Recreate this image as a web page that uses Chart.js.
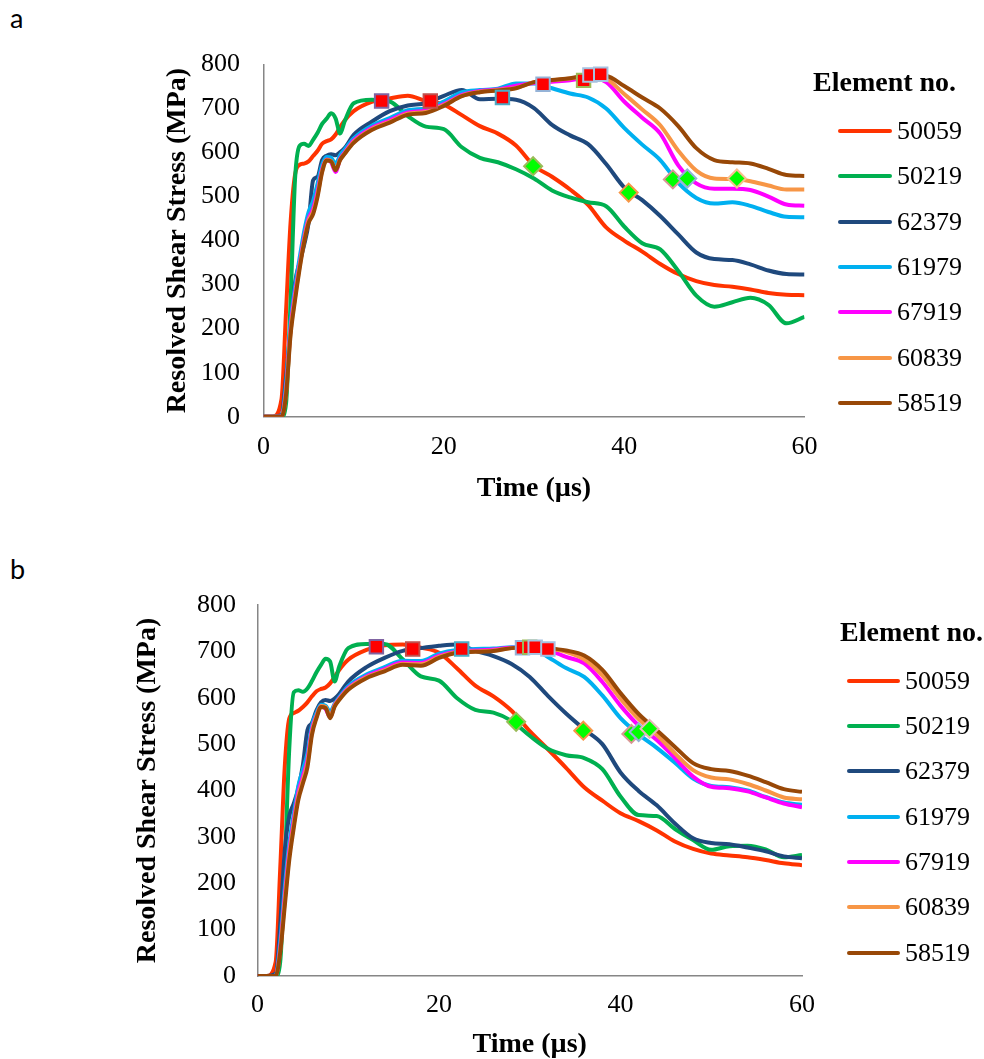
<!DOCTYPE html>
<html>
<head>
<meta charset="utf-8">
<script src="https://cdn.jsdelivr.net/npm/chart.js@4.4.0/dist/chart.umd.min.js"></script>
<style>
  body { margin: 0; background: #fff; }
  #page { position: relative; width: 984px; height: 1059px; overflow: hidden; font-family: "Liberation Serif", "Times New Roman", serif; color: #000; }
  canvas { position: absolute; left: 0; }
  .tag { position: absolute; left: 10px; font-family: Lato, "Open Sans", sans-serif; font-size: 27px; line-height: 1; }
  .legend-title { position: absolute; font-weight: bold; font-size: 28px; line-height: 1; white-space: nowrap; }
  .legend-item { position: absolute; display: flex; align-items: center; font-size: 26px; line-height: 1; height: 26px; }
  .legend-swatch { height: 4px; border-radius: 2px; margin-right: 5px; }
</style>
</head>
<body>
<div id="page">
  <div class="tag" style="top:4px">a</div>
  <div class="tag" style="top:555px">b</div>
  <canvas id="chartA" width="984" height="520" style="top:0"></canvas>
  <canvas id="chartB" width="984" height="529" style="top:530px"></canvas>
  <div id="legendA"></div>
  <div id="legendB"></div>
</div>
<script>
"use strict";

// time axis (µs), shared by every series
const timeUs = [0, 1, 2, 2.5, 3, 3.5, 4, 4.5, 5, 5.5, 6, 6.5, 7, 7.5, 8, 8.5, 9,
  10, 12, 14, 16, 18, 20, 22, 24, 26, 28, 30, 32, 34, 36, 38, 40, 42, 44, 46, 48, 50, 52, 54, 56, 58, 60];

const elementNos = ["50059", "50219", "62379", "61979", "67919", "60839", "58519"];
const lineColors = ["#FF3300", "#00B050", "#1F497D", "#00B0F0", "#FF00FF", "#F79646", "#984807"];

// panel a - resolved shear stress (MPa)
const a50059 = [0, 0, 40, 240, 440, 550, 572, 575, 580, 592, 604, 620, 626, 630, 641, 658, 673,
  694, 715, 723, 729, 717, 709, 685, 660, 643, 616, 570, 545, 516, 481, 430, 400, 375, 347, 324, 308, 299, 295, 289, 281, 277, 276];
const a50219 = [0, 0, 0, 30, 260, 540, 615, 620, 615, 629, 645, 665, 677, 689, 677, 643, 671,
  712, 720, 716, 683, 659, 653, 612, 588, 578, 562, 541, 514, 498, 487, 478, 432, 394, 380, 331, 275, 250, 260, 270, 254, 212, 227];
const a62379 = [0, 0, 5, 90, 200, 305, 350, 390, 440, 537, 545, 583, 593, 596, 594, 601, 610,
  640, 670, 694, 707, 712, 729, 742, 721, 722, 720, 701, 663, 639, 619, 574, 521, 492, 456, 414, 373, 358, 356, 346, 332, 324, 323];
const a61979 = [0, 0, 0, 75, 215, 295, 360, 420, 465, 490, 530, 572, 590, 588, 575, 594, 607,
  632, 661, 678, 696, 700, 716, 737, 742, 745, 757, 757, 746, 734, 725, 700, 656, 618, 583, 531, 497, 484, 487, 479, 465, 454, 453];
const a67919 = [0, 0, 0, 60, 200, 280, 345, 405, 450, 472, 512, 562, 584, 578, 556, 586, 600,
  627, 656, 673, 691, 695, 710, 731, 740, 743, 752, 758, 761, 764, 770, 760, 716, 679, 643, 571, 530, 518, 518, 515, 500, 482, 479];
const a60839 = [0, 0, 0, 55, 192, 272, 340, 400, 445, 465, 505, 558, 583, 581, 561, 584, 598,
  624, 653, 670, 688, 692, 708, 729, 738, 742, 747, 760, 764, 768, 774, 768, 733, 698, 662, 604, 559, 541, 540, 535, 525, 516, 516];
const a58519 = [0, 0, 0, 50, 185, 265, 335, 395, 440, 460, 500, 555, 582, 580, 560, 583, 597,
  622, 651, 668, 686, 690, 706, 728, 737, 741, 746, 760, 765, 769, 775, 774, 751, 725, 700, 660, 610, 583, 578, 575, 563, 549, 547];

// panel b
const b50059 = [0, 0, 30, 230, 450, 555, 567, 572, 580, 590, 603, 614, 619, 622, 631, 645, 660,
  682, 703, 713, 715, 708, 697, 663, 626, 603, 572, 528, 489, 449, 407, 378, 351, 334, 314, 290, 274, 264, 260, 256, 250, 243, 239];
const b50219 = [0, 0, 0, 30, 230, 490, 612, 616, 613, 620, 636, 655, 671, 684, 678, 635, 667,
  707, 716, 716, 683, 646, 637, 599, 574, 568, 550, 518, 490, 476, 470, 446, 387, 347, 345, 317, 293, 272, 280, 281, 273, 256, 261];
const b62379 = [0, 0, 5, 110, 270, 345, 372, 405, 455, 530, 546, 573, 590, 595, 593, 598, 608,
  635, 666, 686, 701, 707, 712, 715, 701, 690, 673, 645, 604, 566, 532, 500, 439, 399, 368, 329, 297, 287, 284, 277, 269, 258, 254];
const b61979 = [0, 0, 0, 75, 190, 285, 350, 410, 445, 480, 540, 567, 585, 583, 570, 587, 601,
  625, 650, 666, 680, 679, 695, 703, 705, 706, 709, 708, 688, 664, 645, 605, 556, 521, 492, 460, 426, 410, 407, 400, 386, 374, 369];
const b67919 = [0, 0, 0, 60, 172, 270, 336, 396, 430, 466, 532, 561, 582, 576, 558, 584, 598,
  621, 646, 662, 676, 675, 691, 700, 702, 704, 708, 708, 703, 688, 674, 634, 583, 540, 509, 470, 430, 408, 405, 398, 385, 372, 364];
const b60839 = [0, 0, 0, 55, 162, 260, 328, 388, 422, 458, 526, 559, 582, 580, 559, 583, 597,
  619, 644, 659, 673, 672, 688, 698, 700, 702, 707, 708, 706, 699, 683, 648, 598, 554, 520, 480, 444, 428, 424, 414, 400, 385, 381];
const b58519 = [0, 0, 0, 50, 150, 250, 320, 380, 415, 450, 520, 556, 580, 578, 556, 581, 595,
  617, 642, 657, 671, 669, 686, 697, 699, 701, 707, 709, 707, 702, 691, 660, 610, 565, 530, 494, 459, 446, 442, 432, 418, 403, 397];

// markers: red squares and green diamonds
const squareA_t = [13.1, 18.5, 26.5, 31.0, 35.5, 36.2, 37.4];
const squareA_v = [717, 717, 725, 755, 764, 776, 778];
const diamondA_t = [29.9, 40.5, 45.4, 47.0, 52.5];
const diamondA_v = [569, 509, 539, 541, 541];
const squareB_t = [13.1, 17.1, 22.5, 29.2, 30.0, 30.6, 32.0];
const squareB_v = [710, 705, 705, 708, 709, 709, 705];
const diamondB_t = [28.5, 35.9, 41.2, 42.0, 43.2];
const diamondB_v = [548, 529, 522, 526, 533];

// marker edge colours (style only)
const squareEdgeA = ["#8064A2", "#C0504D", "#4BACC6", "#95B3D7", "#9BBB59", "#A6C1E0", "#A6C1E0"];
const diamondEdgeA = ["#9BBB59", "#F79646", "#D99694", "#95B3D7", "#FAC090"];
const squareEdgeB = ["#8064A2", "#C0504D", "#4BACC6", "#95B3D7", "#9BBB59", "#A6C1E0", "#A6C1E0"];
const diamondEdgeB = ["#9BBB59", "#F79646", "#D99694", "#95B3D7", "#E6B9B8"];

const toPoints = (xs, ys) => xs.map((x, i) => ({ x: x, y: ys[i] }));

function buildPanel(canvasId, seriesList, sq, dm, box) {
  const datasets = seriesList.map((vals, i) => ({
    label: elementNos[i],
    data: toPoints(timeUs, vals),
    borderColor: lineColors[i],
    backgroundColor: lineColors[i],
    borderWidth: 4,
    pointRadius: 0,
    cubicInterpolationMode: "monotone",
    fill: false,
    order: seriesList.length - i // later series drawn on top, like the original
  }));

  datasets.push({
    label: "squares",
    data: toPoints(sq.t, sq.v),
    showLine: false,
    pointStyle: "rect",
    pointRadius: 9.5,
    pointBorderWidth: 2,
    pointBackgroundColor: "#FF0000",
    pointBorderColor: sq.edge,
    order: 0
  });
  datasets.push({
    label: "diamonds",
    data: toPoints(dm.t, dm.v),
    showLine: false,
    pointStyle: "rectRot",
    pointRadius: 9,
    pointBorderWidth: 2,
    pointBackgroundColor: "#00FF00",
    pointBorderColor: dm.edge,
    order: 0
  });

  const tickFont = { family: "'Liberation Serif', 'Times New Roman', serif", size: 26 };
  const titleFont = { family: "'Liberation Serif', 'Times New Roman', serif", size: 28, weight: "bold", lineHeight: 1 };
  const axisBorder = { display: true, color: "#868686", width: 1.5 };

  return new Chart(document.getElementById(canvasId), {
    type: "line",
    data: { datasets: datasets },
    options: {
      responsive: false,
      animation: false,
      devicePixelRatio: 1,
      events: [],
      layout: { padding: { left: box.padLeft, right: box.padRight, top: box.padTop, bottom: box.padBottom } },
      plugins: { legend: { display: false }, tooltip: { enabled: false } },
      scales: {
        x: {
          type: "linear",
          min: 0,
          max: 60,
          grid: { drawOnChartArea: false, drawTicks: false },
          border: axisBorder,
          ticks: { stepSize: 20, padding: box.xTickPad, font: tickFont, color: "#000", maxRotation: 0 },
          title: { display: true, text: "Time (µs)", font: titleFont, color: "#000", padding: 0 },
          afterFit: (scale) => { scale.height = box.xHeight; }
        },
        y: {
          min: 0,
          max: 800,
          grid: { drawOnChartArea: false, drawTicks: false },
          border: axisBorder,
          ticks: { stepSize: 100, padding: box.yTickPad, font: tickFont, color: "#000" },
          title: { display: true, text: "Resolved Shear Stress (MPa)", font: titleFont, color: "#000", padding: 0 },
          afterFit: (scale) => { scale.width = box.yWidth; }
        }
      }
    }
  });
}

function buildLegend(holderId, pos) {
  const holder = document.getElementById(holderId);
  const title = document.createElement("div");
  title.className = "legend-title";
  title.textContent = "Element no.";
  title.style.left = pos.titleLeft + "px";
  title.style.top = (pos.titleMid - 14) + "px";
  holder.appendChild(title);

  elementNos.forEach((name, i) => {
    const item = document.createElement("div");
    item.className = "legend-item";
    item.style.left = pos.itemLeft + "px";
    item.style.top = (pos.firstRow + i * pos.rowGap - 13) + "px";
    const sw = document.createElement("span");
    sw.className = "legend-swatch";
    sw.style.width = pos.swatchW + "px";
    sw.style.background = lineColors[i];
    const txt = document.createElement("span");
    txt.textContent = name;
    item.appendChild(sw);
    item.appendChild(txt);
    holder.appendChild(item);
  });
}

buildPanel("chartA",
  [a50059, a50219, a62379, a61979, a67919, a60839, a58519],
  { t: squareA_t, v: squareA_v, edge: squareEdgeA },
  { t: diamondA_t, v: diamondA_v, edge: diamondEdgeA },
  { padLeft: 164, padRight: 179.5, padTop: 64.5, padBottom: 17, yWidth: 99.5, xHeight: 86.3, yTickPad: 23.5, xTickPad: 15 });

buildPanel("chartB",
  [b50059, b50219, b62379, b61979, b67919, b60839, b58519],
  { t: squareB_t, v: squareB_v, edge: squareEdgeB },
  { t: diamondB_t, v: diamondB_v, edge: diamondEdgeB },
  { padLeft: 134, padRight: 182, padTop: 75, padBottom: 0, yWidth: 123.5, xHeight: 83, yTickPad: 21.5, xTickPad: 14 });

buildLegend("legendA", { titleLeft: 813, titleMid: 82, itemLeft: 838, swatchW: 54, firstRow: 130.7, rowGap: 45.4 });
buildLegend("legendB", { titleLeft: 840, titleMid: 632, itemLeft: 847, swatchW: 53, firstRow: 680.7, rowGap: 45.3 });
</script>
</body>
</html>
